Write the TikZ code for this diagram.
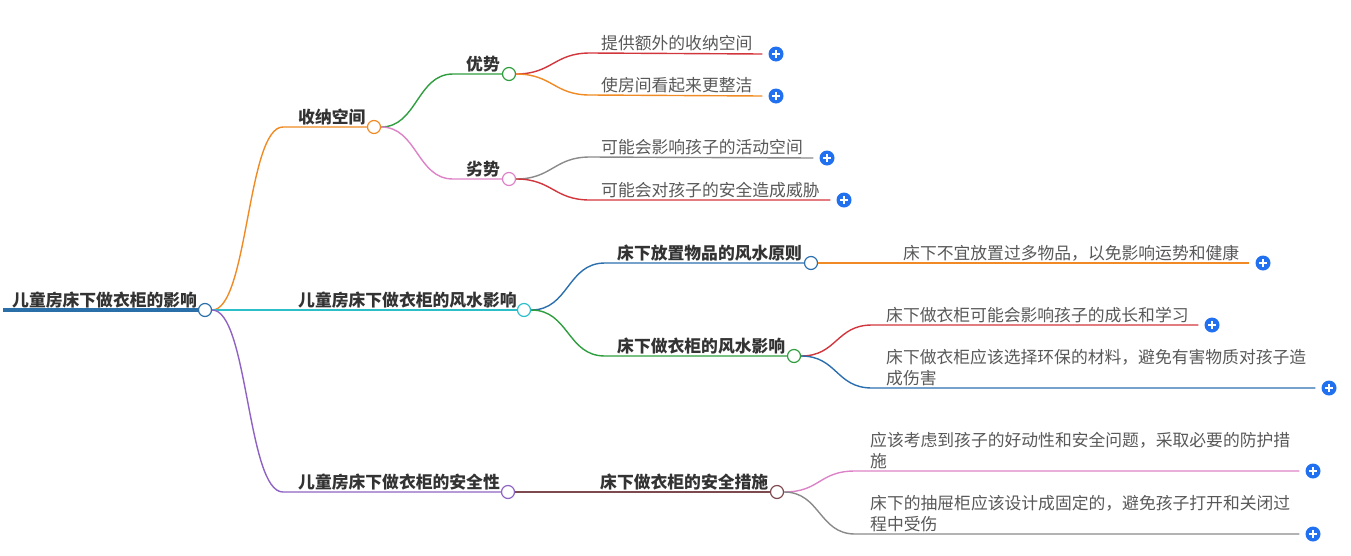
\documentclass[tikz,border=0pt]{standalone}
\usepackage{fontspec}
\newfontfamily\cjk{Noto Sans CJK SC}
\usetikzlibrary{positioning, calc}

\definecolor{rootblue}{HTML}{2A6FA8}
\definecolor{orangeL}{HTML}{F08A24}
\definecolor{cyanL}{HTML}{2BBFC9}
\definecolor{purpleL}{HTML}{8E63C4}
\definecolor{greenL}{HTML}{2F9E3F}
\definecolor{pinkL}{HTML}{DE82C8}
\definecolor{redL}{HTML}{D2363D}
\definecolor{grayL}{HTML}{8A8A8A}
\definecolor{blueL}{HTML}{2B6FAE}
\definecolor{brownL}{HTML}{7D4A4F}
\definecolor{plusblue}{HTML}{2170F0}
\definecolor{txtdark}{HTML}{333333}
\definecolor{txtgray}{HTML}{585858}

\begin{document}
\begin{tikzpicture}[
  x=1pt, y=-1pt,
  font=\cjk\fontsize{16.8}{21}\selectfont,
  hub/.style={circle, draw=#1, fill=white, line width=1.2pt,
              minimum size=13pt, inner sep=0pt},
  link/.style={draw=#1, line width=1.4pt},
  topic/.style={font=\cjk\bfseries\fontsize{16.8}{21}\selectfont, text=txtdark,
                anchor=base west, inner sep=0pt},
  leaf/.style={text=txtgray, anchor=base west, inner sep=0pt, align=left},
  plus/.style={circle, fill=plusblue, minimum size=15pt, inner sep=0pt,
               path picture={\draw[white, line width=1.6pt]
                 ([xshift=-4pt]path picture bounding box.center) -- ([xshift=4pt]path picture bounding box.center)
                 ([yshift=-4pt]path picture bounding box.center) -- ([yshift=4pt]path picture bounding box.center);}},
]
\useasboundingbox (0,0) rectangle (1351,555);

% hubs
\node[hub=rootblue] (root) at (205,310) {};
\node[hub=orangeL]  (kj)   at (374,127) {};
\node[hub=cyanL]    (fs)   at (524,310) {};
\node[hub=purpleL]  (aq)   at (508,492) {};
\node[hub=greenL]   (ys)   at (509,74)  {};
\node[hub=pinkL]    (ls)   at (509,179) {};
\node[hub=blueL]    (yz)   at (811,263) {};
\node[hub=greenL]   (yx)   at (794,356) {};
\node[hub=brownL]   (cs)   at (777,492) {};

% plus buttons
\node[plus] (p1) at (776,54)   {};
\node[plus] (p2) at (776,96)   {};
\node[plus] (p3) at (827,158)  {};
\node[plus] (p4) at (844,200)  {};
\node[plus] (p5) at (1263,263) {};
\node[plus] (p6) at (1212,325) {};
\node[plus] (p7) at (1329,388) {};
\node[plus] (p8) at (1313,471) {};
\node[plus] (p9) at (1313,534) {};

% connectors
\coordinate (rootL) at (3,310);
\draw[rootblue, line width=4pt] (rootL) -- (root.west);
\draw[link=orangeL] (root.east) .. controls +(36,0) and +(-36,0) .. (283,127) -- (kj.west);
\draw[link=cyanL]   (root.east) -- (fs.west);
\draw[link=purpleL] (root.east) .. controls +(36,0) and +(-36,0) .. (283,492) -- (aq.west);

\draw[link=greenL] (kj.east) .. controls +(36,0) and +(-36,0) .. (453,74)  -- (ys.west);
\draw[link=pinkL]  (kj.east) .. controls +(36,0) and +(-36,0) .. (453,179) -- (ls.west);
\draw[link=blueL]  (fs.east) .. controls +(38,0) and +(-38,0) .. (605,263) -- (yz.west);
\draw[link=greenL] (fs.east) .. controls +(38,0) and +(-38,0) .. (605,356) -- (yx.west);
\draw[link=brownL] (aq.east) -- (cs.west);

\draw[link=redL]    (ys.east) .. controls +(36,0) and +(-36,0) .. (590,53)  -- ([xshift=-6pt]p1.west);
\draw[link=orangeL] (ys.east) .. controls +(36,0) and +(-36,0) .. (590,95)  -- ([xshift=-6pt]p2.west);
\draw[link=grayL]   (ls.east) .. controls +(36,0) and +(-36,0) .. (590,157) -- ([xshift=-6pt]p3.west);
\draw[link=redL]    (ls.east) .. controls +(36,0) and +(-36,0) .. (590,200) -- ([xshift=-6pt]p4.west);
\draw[link=orangeL] (yz.east) -- ([xshift=-6pt]p5.west);
\draw[link=redL]    (yx.east) .. controls +(36,0) and +(-36,0) .. (872,325) -- ([xshift=-6pt]p6.west);
\draw[link=blueL]   (yx.east) .. controls +(36,0) and +(-36,0) .. (872,388) -- ([xshift=-6pt]p7.west);
\draw[link=pinkL]   (cs.east) .. controls +(36,0) and +(-36,0) .. (855,471) -- ([xshift=-6pt]p8.west);
\draw[link=grayL]   (cs.east) .. controls +(36,0) and +(-36,0) .. (855,534) -- ([xshift=-6pt]p9.west);

% texts
\node[topic] (rootT) at (12,306)  {儿童房床下做衣柜的影响};
\node[topic] (kjT)   at (298,123) {收纳空间};
\node[topic] (fsT)   at (298,306) {儿童房床下做衣柜的风水影响};
\node[topic] (aqT)   at (298,488) {儿童房床下做衣柜的安全性};
\node[topic] (ysT)   at (466,70)  {优势};
\node[topic] (lsT)   at (466,175) {劣势};
\node[topic] (yzT)   at (617,259) {床下放置物品的风水原则};
\node[topic] (yxT)   at (617,352) {床下做衣柜的风水影响};
\node[topic] (csT)   at (600,488) {床下做衣柜的安全措施};

\node[leaf] (l1) at (601,49)  {提供额外的收纳空间};
\node[leaf] (l2) at (601,91)  {使房间看起来更整洁};
\node[leaf] (l3) at (601,153) {可能会影响孩子的活动空间};
\node[leaf] (l4) at (601,196) {可能会对孩子的安全造成威胁};
\node[leaf] (l5) at (903,259) {床下不宜放置过多物品，以免影响运势和健康};
\node[leaf] (l6) at (886,321) {床下做衣柜可能会影响孩子的成长和学习};
\node[leaf] (l7) at (886,384) {床下做衣柜应该选择环保的材料，避免有害物质对孩子造\\成伤害};
\node[leaf] (l8) at (870,467) {应该考虑到孩子的好动性和安全问题，采取必要的防护措\\施};
\node[leaf] (l9) at (870,530) {床下的抽屉柜应该设计成固定的，避免孩子打开和关闭过\\程中受伤};
\end{tikzpicture}
\end{document}
